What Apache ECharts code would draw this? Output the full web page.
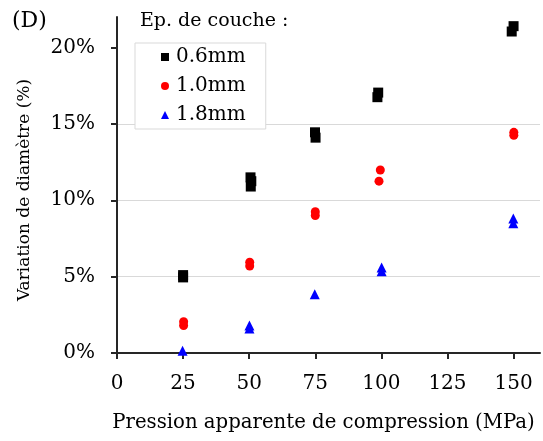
<!DOCTYPE html>
<html><head><meta charset="utf-8">
<script src="https://cdn.jsdelivr.net/npm/echarts@6/dist/echarts.min.js"></script>
<style>html,body{margin:0;padding:0;background:#fff}#c{width:543px;height:441px}</style>
</head><body><div id="c"></div>
<script>
const xTicks = [0, 25, 50, 75, 100, 125, 150];
const yTicks = [0, 5, 10, 15, 20];
const names = ['0.6mm', '1.0mm', '1.8mm'];
const x06 = [25, 25, 50.5, 50.8, 50.6, 74.9, 75.1, 98.8, 98.5, 150, 149.3];
const y06 = [5.1, 4.95, 11.5, 11.25, 10.9, 14.45, 14.1, 17.05, 16.75, 21.4, 21.05];
const x10 = [25.2, 25.2, 50.2, 50.2, 75, 75, 99.6, 99.1, 150.1, 150.1];
const y10 = [2.05, 1.8, 5.95, 5.7, 9.25, 9.0, 11.98, 11.25, 14.45, 14.25];
const x18 = [24.8, 50.1, 50.1, 74.8, 100.1, 100.1, 149.9, 149.9];
const y18 = [0.15, 1.8, 1.6, 3.85, 5.6, 5.35, 8.8, 8.5];

const FONT = 'DejaVu Serif';
const pairs = (xs, ys) => xs.map((x, i) => [x, ys[i]]);
const chart = echarts.init(document.getElementById('c'));
chart.setOption({
  animation: false,
  textStyle: { fontFamily: FONT, color: '#000' },
  grid: { left: 117, right: 3, top: 17, bottom: 88, containLabel: false, outerBoundsMode: 'none' },
  graphic: [
    { type: 'text', left: 12, top: 10, style: { text: '(D)', font: '22px "DejaVu Serif"', fill: '#000' } },
    { type: 'text', left: 140, top: 12, style: { text: 'Ep. de couche :', font: '19px "DejaVu Serif"', fill: '#000' } }
  ],
  legend: {
    orient: 'vertical', left: 135, top: 43,
    padding: [3, 20, 3, 26], itemGap: 7,
    itemWidth: 8, itemHeight: 8,
    backgroundColor: '#fff', borderColor: '#d9d9d9', borderWidth: 1,
    textStyle: { fontFamily: FONT, fontSize: 20, color: '#000', lineHeight: 22, padding: [0, 0, 0, 2] },
    data: [
      { name: names[0], icon: 'rect' },
      { name: names[1], icon: 'circle' },
      { name: names[2], icon: 'triangle' }
    ]
  },
  xAxis: {
    type: 'value', min: 0, max: 160, interval: 25,
    name: 'Pression apparente de compression (MPa)', nameLocation: 'middle', nameGap: 60,
    nameTextStyle: { fontFamily: FONT, fontSize: 19.7, color: '#000', padding: [0, 10, 0, 0] },
    axisLine: { onZero: false, lineStyle: { color: '#262626', width: 2 } },
    axisTick: { show: true, length: 6, customValues: xTicks, lineStyle: { color: '#262626', width: 2 } },
    axisLabel: { customValues: xTicks, margin: 21, fontFamily: FONT, fontSize: 20, color: '#000' },
    splitLine: { show: false }
  },
  yAxis: {
    type: 'value', min: 0, max: 22, interval: 5,
    name: 'Variation de diamètre (%)', nameLocation: 'middle', nameGap: 84, nameRotate: 90,
    nameTextStyle: { fontFamily: FONT, fontSize: 17, color: '#000', padding: [0, 10, 0, 0] },
    axisLine: { show: true, lineStyle: { color: '#262626', width: 2 } },
    axisTick: { show: true, length: 6, customValues: yTicks, lineStyle: { color: '#262626', width: 2 } },
    axisLabel: { customValues: yTicks, margin: 22, fontFamily: FONT, fontSize: 20, color: '#000', formatter: '{value}%' },
    splitLine: { show: true, showMinLine: false, showMaxLine: false, lineStyle: { color: '#d9d9d9', width: 1 } }
  },
  series: [
    { name: names[0], type: 'scatter', symbol: 'rect', symbolSize: 10, itemStyle: { color: '#000', opacity: 1 }, data: pairs(x06, y06) },
    { name: names[1], type: 'scatter', symbol: 'circle', symbolSize: 9, itemStyle: { color: '#ff0000', opacity: 1 }, data: pairs(x10, y10) },
    { name: names[2], type: 'scatter', symbol: 'triangle', symbolSize: 10, itemStyle: { color: '#0000ff', opacity: 1 }, data: pairs(x18, y18) }
  ]
});
</script></body></html>
